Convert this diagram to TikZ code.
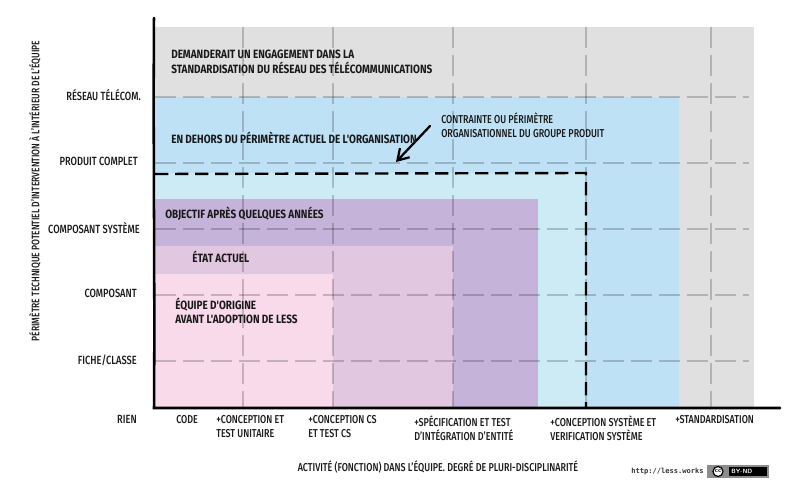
\documentclass[tikz,border=0pt]{standalone}
\usepackage{fontspec}
\setmainfont[FakeStretch=0.78]{Fira Sans Medium}
\newfontfamily\zonefont[FakeStretch=0.83]{Fira Sans Bold}
\newfontfamily\urlfont{DejaVu Sans Mono Bold}
\usetikzlibrary{arrows.meta}
\definecolor{greyzone}{HTML}{E0E0E0}
\definecolor{bluezone}{HTML}{BEE1F6}
\definecolor{cyanzone}{HTML}{CDEBF5}
\definecolor{purplezone}{HTML}{C6B3DA}
\definecolor{mauvezone}{HTML}{E2C7E1}
\definecolor{pinkzone}{HTML}{F9DAEA}
\tikzset{
  gridline/.style={draw=black,draw opacity=0.2,line width=1.1pt,dash pattern=on 16pt off 5pt},
  axisline/.style={draw=black,line width=1.9pt,line cap=round},
  limitline/.style={draw=black,line width=1.8pt,dash pattern=on 10pt off 5pt},
  lbl/.style={inner sep=0pt,font=\fontsize{8.6}{10.5}\selectfont,text=black!90,align=left},
  zonelbl/.style={inner sep=0pt,font=\zonefont\fontsize{9}{11}\selectfont,text=black!90,align=left,anchor=west},
  ylbl/.style={lbl,anchor=east,font=\fontsize{8.9}{10.8}\selectfont},
  xlbl/.style={lbl,anchor=north west}
}
\begin{document}
\begin{tikzpicture}[x=0.75pt,y=-0.75pt]
\useasboundingbox (0,0) rectangle (792,485);

\fill[greyzone] (155,27) rectangle (754,407);
\fill[bluezone] (155,97) rectangle (679,407);
\fill[cyanzone] (155,173) rectangle (586,407);
\fill[purplezone] (155,199) rectangle (538,407);
\fill[mauvezone] (155,246) rectangle (453,407);
\fill[pinkzone] (155,274) rectangle (333,407);

\draw[gridline] (155,97) -- (749,97);
\draw[gridline] (155,163) -- (749,163);
\draw[gridline] (155,229) -- (749,229);
\draw[gridline] (155,295) -- (749,295);
\draw[gridline] (155,361) -- (749,361);
\draw[gridline] (243,27) -- (243,407);
\draw[gridline] (333,27) -- (333,407);
\draw[gridline] (453,27) -- (453,407);
\draw[gridline] (586,27) -- (586,407);
\draw[gridline] (711,27) -- (711,407);

\coordinate (axistop) at (154,18);
\coordinate (origin) at (154,408);
\coordinate (axisend) at (780,408);
\coordinate (limitleft) at (155,174);
\coordinate (limitcorner) at (586,173);
\coordinate (limitbottom) at (586,407);
\coordinate (arrowstart) at (430,126);
\coordinate (arrowend) at (396,162);

\draw[limitline] (limitleft) -- (limitcorner) -- (limitbottom);
\draw[axisline] (axistop) .. controls (153,150) and (155,280) .. (origin) -- (axisend);
\draw[axisline,-{Straight Barb[length=8pt,width=10pt]},line width=1.7pt] (arrowstart) -- (arrowend);

\node[zonelbl] (engagement) at (171,62) {DEMANDERAIT UN ENGAGEMENT DANS LA\\STANDARDISATION DU RÉSEAU DES TÉLÉCOMMUNICATIONS};
\node[zonelbl] (dehors) at (171,138) {EN DEHORS DU PÉRIMÈTRE ACTUEL DE L'ORGANISATION};
\node[lbl,anchor=west] (contrainte) at (441,125) {CONTRAINTE OU PÉRIMÈTRE\\ORGANISATIONNEL DU GROUPE PRODUIT};
\node[zonelbl] (objectif) at (165,214) {OBJECTIF APRÈS QUELQUES ANNÉES};
\node[zonelbl] (etat) at (192,257) {ÉTAT ACTUEL};
\node[zonelbl] (equipe) at (175,311) {ÉQUIPE D'ORIGINE\\AVANT L'ADOPTION DE LESS};

\node[ylbl] (reseau) at (141,95) {RÉSEAU TÉLÉCOM.};
\node[ylbl] (produit) at (138,161) {PRODUIT COMPLET};
\node[ylbl] (systeme) at (140,228) {COMPOSANT SYSTÈME};
\node[ylbl] (composant) at (137,293) {COMPOSANT};
\node[ylbl] (fiche) at (137,360) {FICHE/CLASSE};
\node[ylbl] (rien) at (137,419) {RIEN};

\node[xlbl] (code) at (176,415) {CODE};
\node[xlbl] (unitaire) at (216,415) {+CONCEPTION ET\\TEST UNITAIRE};
\node[xlbl] (cs) at (308,415) {+CONCEPTION CS\\ET TEST CS};
\node[xlbl] (entite) at (414,415) {+SPÉCIFICATION ET TEST\\D'INTÉGRATION D'ENTITÉ};
\node[xlbl] (verif) at (550,415) {+CONCEPTION SYSTÈME ET\\VERIFICATION SYSTÈME};
\node[xlbl] (standard) at (675,415) {+STANDARDISATION};

\node[lbl,anchor=center] (activite) at (438,467) {ACTIVITÉ (FONCTION) DANS L'ÉQUIPE. DEGRÉ DE PLURI-DISCIPLINARITÉ};
\node[lbl,anchor=center,rotate=90,font=\fontsize{8.2}{10}\selectfont] (perimetre) at (35,191) {PÉRIMÈTRE TECHNIQUE POTENTIEL D'INTERVENTION À L'INTÉRIEUR DE L'ÉQUIPE};

\node[inner sep=0pt,anchor=east,font=\urlfont\fontsize{5.3}{7}\selectfont,text=black!80] (url) at (704,472) {http://less.works};
\fill[black!45] (707,465) rectangle (769,478);
\fill[black] (729,467) rectangle (767,476);
\node[draw=black,fill=white,circle,line width=0.9pt,inner sep=0pt,minimum size=7.5pt,font=\sffamily\bfseries\fontsize{4.8}{5}\selectfont] (cc) at (718,471.5) {cc};
\node[inner sep=0pt,anchor=west,font=\sffamily\bfseries\fontsize{4.6}{6}\selectfont,text=white] (bynd) at (731,471.5) {BY-ND};
\end{tikzpicture}
\end{document}
